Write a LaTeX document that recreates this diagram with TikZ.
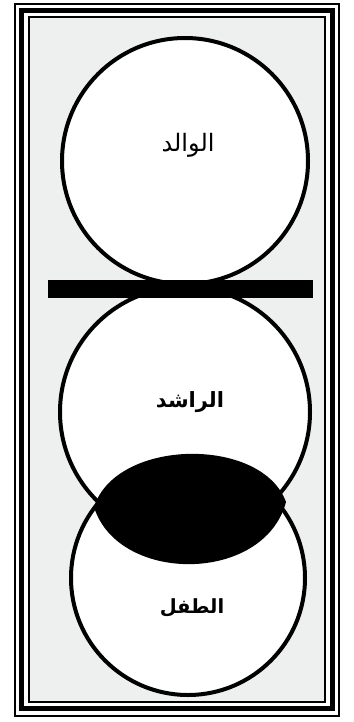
\documentclass[tikz,border=0pt]{standalone}
\usepackage{fontspec}
\newfontfamily\arabicfont[Script=Arabic]{DejaVu Sans}
\TeXXeTstate=1
\definecolor{panelgrey}{RGB}{237,240,238}
\begin{document}
\begin{tikzpicture}[x=1pt, y=-1pt,
    ring/.style={circle, draw, line width=4pt, fill=white, inner sep=0pt, minimum size=#1},
    word/.style={font=\arabicfont\fontsize{#1}{#1}\selectfont},
    boldword/.style={font=\arabicfont\bfseries\fontsize{#1}{#1}\selectfont}]
\useasboundingbox (0,0) rectangle (353,722);
% frame
\draw[line width=2pt] (15,4) rectangle (339,716);
\draw[line width=5pt] (21.5,10.5) rectangle (332.5,708.5);
\draw[line width=2pt, fill=panelgrey] (29,17) rectangle (325,702);
% circles
\node[ring=246pt] (parent) at (185,161) {};
\node[ring=250pt] (mentor) at (185,412) {};
\node[ring=234pt] (child) at (188,578) {};
% shared part
\coordinate (lefttip) at (94,507);
\coordinate (righttip) at (286,502);
\fill (lefttip) .. controls (116,438) and (262,436) .. (righttip)
    .. controls (264,584) and (118,584) .. (lefttip) -- cycle;
\node[fill=black, minimum width=265pt, minimum height=18pt, inner sep=0pt] (bar) at (180.5,288.5) {};
% labels
\node[word=24] (parentlabel) at (188,145) {\beginR الوالد\endR};
\node[boldword=21] (mentorlabel) at (190,402) {\beginR الراشد\endR};
\node[boldword=19.5] (childlabel) at (192,608) {\beginR الطفل\endR};
\end{tikzpicture}
\end{document}
